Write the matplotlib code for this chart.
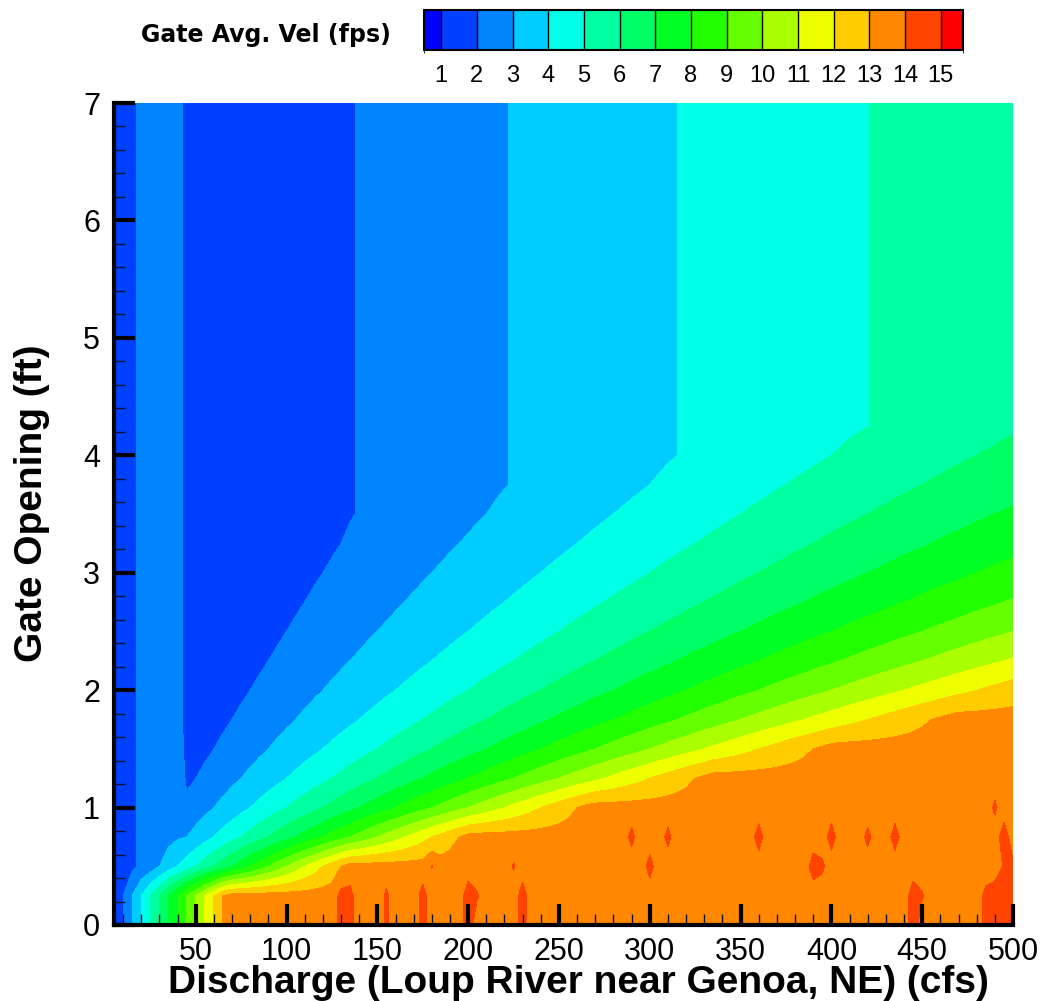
import numpy as np
import matplotlib
matplotlib.use('Agg')
import matplotlib.pyplot as plt
from matplotlib.colors import ListedColormap, BoundaryNorm
from matplotlib.cm import ScalarMappable
from matplotlib.ticker import MultipleLocator

plt.rcParams['font.family'] = ['Liberation Sans', 'DejaVu Sans']

# run table: discharge (cfs) x gate opening (ft)
discharge = np.arange(5, 505, 5)
gate_open = np.arange(0, 7.25, 0.25)
gate_width = 20.0          # ft
min_opening = 0.25         # lowest opening that was run, 0 row repeats it

# average velocity once the gate is clear of the flow, by discharge
full_q = [5, 15, 20, 40, 45, 138, 222, 315, 421, 500]
full_vel = [1.5, 1.8, 2.2, 2.9, 1.1, 2.0, 3.0, 4.0, 5.0, 5.8]

# upper limit of velocity under the gate (head limited)
vel_limit = 13.4

# runs that came out above the limit
spike_q = [130, 135, 155, 175, 200, 205, 230, 445, 450, 485, 490, 495, 500,
           130, 135, 155, 175, 200, 230, 445, 485, 490, 495, 500,
           180, 225, 300, 390, 395, 495, 500,
           290, 310, 360, 400, 420, 435, 495, 490]
spike_h = [0.25] * 13 + [0.0] * 11 + [0.5] * 7 + [0.75] * 7 + [1.0]
spike_vel = [14.3, 14.3, 14.2, 14.4, 14.6, 14.1, 14.5, 14.6, 14.1, 14.3, 14.6, 14.6, 14.6,
             14.3, 14.3, 14.2, 14.4, 14.6, 14.5, 14.6, 14.3, 14.6, 14.6, 14.6,
             14.05, 14.1, 14.4, 14.5, 14.2, 14.1, 14.2,
             14.3, 14.3, 14.5, 14.5, 14.3, 14.5, 14.6, 14.2]

levels = [0, 1, 2, 3, 4, 5, 6, 7, 8, 9, 10, 11, 12, 13, 14, 15, 40]
legend_bounds = [0.52, 1, 2, 3, 4, 5, 6, 7, 8, 9, 10, 11, 12, 13, 14, 15, 15.62]
colors = ['#0000FF', '#0040FF', '#0085FF', '#00CCFF', '#00FFE6', '#00FFA0',
          '#00FF64', '#00FF22', '#22FF00', '#66FF00', '#AAFF00', '#EEFF00',
          '#FFCC00', '#FF8800', '#FF4400', '#FF0000']

Q, H = np.meshgrid(discharge, gate_open)
vel = Q / (gate_width * np.maximum(H, min_opening))
vel = np.minimum(vel, vel_limit)
vel = np.maximum(vel, np.interp(discharge, full_q, full_vel)[None, :])
for q, h, v in zip(spike_q, spike_h, spike_vel):
    vel[np.argmin(abs(gate_open - h)), np.argmin(abs(discharge - q))] = v

fig = plt.figure(figsize=(10.42, 10.01), dpi=100)
ax = fig.add_axes([114/1042, 1 - 925/1001, (1013 - 114)/1042, (925 - 103)/1001])

ax.contourf(discharge, gate_open, vel, levels=levels, colors=colors)
ax.set_xlim(5, 500)
ax.set_ylim(0, 7)

for s in ['top', 'right']:
    ax.spines[s].set_visible(False)
for s in ['left', 'bottom']:
    ax.spines[s].set_linewidth(3)
ax.xaxis.set_major_locator(MultipleLocator(50))
ax.xaxis.set_minor_locator(MultipleLocator(10))
ax.yaxis.set_major_locator(MultipleLocator(1))
ax.yaxis.set_minor_locator(MultipleLocator(0.2))
ax.tick_params(which='major', direction='in', length=15, width=3, labelsize=22, pad=9)
ax.tick_params(which='minor', direction='in', length=8, width=1, color='#111133')
ax.tick_params(axis='y', pad=10)

fig.text(578/1042, 1 - 993/1001, 'Discharge (Loup River near Genoa, NE) (cfs)',
         ha='center', va='baseline', fontsize=28, fontweight='bold')
fig.text(32/1042, 1 - 503/1001, 'Gate Opening (ft)', ha='center', va='center',
         rotation=90, fontsize=28, fontweight='bold')

# legend bar
cax = fig.add_axes([424/1042, 1 - 50/1001, 539/1042, 40/1001])
cmap = ListedColormap(colors)
norm = BoundaryNorm(legend_bounds, cmap.N)
cb = fig.colorbar(ScalarMappable(norm=norm, cmap=cmap), cax=cax, orientation='horizontal',
                  boundaries=legend_bounds, spacing='proportional',
                  ticks=range(1, 16), drawedges=True)
cb.outline.set_linewidth(1.5)
cb.dividers.set_linewidth(1)
cax.tick_params(length=0, labelsize=17, pad=11)
fig.text(391/1042, 1 - 35/1001, 'Gate Avg. Vel (fps)', ha='right', va='center',
         fontsize=17, fontweight='bold', family='DejaVu Sans')

fig.savefig('out.png', dpi=100)
